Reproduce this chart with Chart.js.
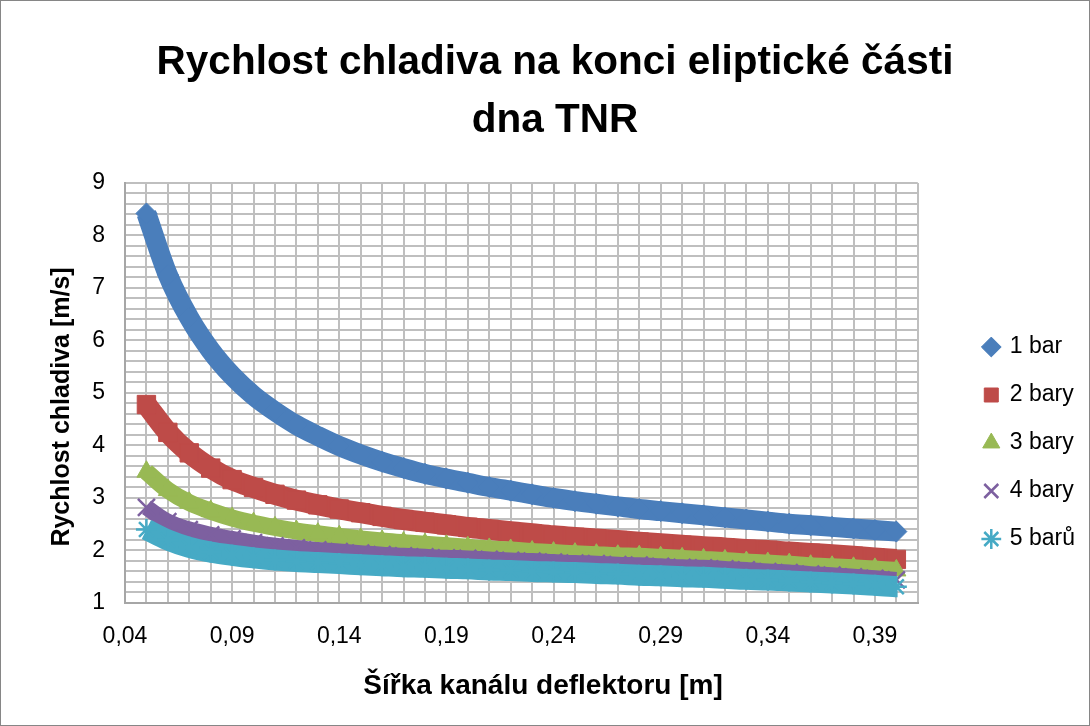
<!DOCTYPE html>
<html>
<head>
<meta charset="utf-8">
<style>
html,body{margin:0;padding:0;background:#fff;overflow:hidden}
canvas{display:block}
</style>
</head>
<body>
<canvas id="c" width="1090" height="726"></canvas>
<script src="https://cdn.jsdelivr.net/npm/chart.js"></script>
<script>
const titleLines = ['Rychlost chladiva na konci eliptické části', 'dna TNR'];
const xAxisTitle = 'Šířka kanálu deflektoru [m]';
const yAxisTitle = 'Rychlost chladiva [m/s]';
const seriesNames = ['1 bar', '2 bary', '3 bary', '4 bary', '5 barů'];
const xTickLabels = ['0,04', '0,09', '0,14', '0,19', '0,24', '0,29', '0,34', '0,39'];
const yTickLabels = ['1', '2', '3', '4', '5', '6', '7', '8', '9'];

const xValues = [0.05, 0.06, 0.07, 0.08, 0.09, 0.10, 0.11, 0.12, 0.13, 0.14, 0.15, 0.16,
  0.17, 0.18, 0.19, 0.20, 0.21, 0.22, 0.23, 0.24, 0.25, 0.26, 0.27, 0.28,
  0.29, 0.30, 0.31, 0.32, 0.33, 0.34, 0.35, 0.36, 0.37, 0.38, 0.39, 0.40];

const bar1 = [8.42, 7.25, 6.43, 5.81, 5.33, 4.95, 4.65, 4.39, 4.18, 3.99, 3.83, 3.69,
  3.57, 3.46, 3.37, 3.29, 3.21, 3.14, 3.07, 3.00, 2.94, 2.89, 2.84, 2.79,
  2.75, 2.71, 2.67, 2.63, 2.59, 2.55, 2.51, 2.48, 2.45, 2.42, 2.39, 2.36];
const bar2 = [4.78, 4.25, 3.86, 3.57, 3.35, 3.20, 3.07, 2.96, 2.87, 2.79, 2.72, 2.65,
  2.59, 2.54, 2.49, 2.44, 2.40, 2.36, 2.32, 2.28, 2.25, 2.22, 2.19, 2.16,
  2.13, 2.10, 2.07, 2.05, 2.02, 2.00, 1.97, 1.945, 1.92, 1.89, 1.86, 1.83];
const bar3 = [3.50, 3.15, 2.91, 2.75, 2.62, 2.52, 2.44, 2.37, 2.32, 2.27, 2.22, 2.18,
  2.15, 2.12, 2.09, 2.06, 2.03, 2.01, 1.98, 1.96, 1.94, 1.92, 1.90, 1.89,
  1.87, 1.85, 1.83, 1.81, 1.78, 1.76, 1.74, 1.71, 1.69, 1.67, 1.65, 1.62];
const bar4 = [2.82, 2.55, 2.40, 2.30, 2.22, 2.15, 2.09, 2.05, 2.01, 1.98, 1.95, 1.92,
  1.90, 1.88, 1.86, 1.85, 1.83, 1.81, 1.80, 1.78, 1.76, 1.75, 1.73, 1.72,
  1.70, 1.68, 1.67, 1.65, 1.63, 1.60, 1.58, 1.55, 1.53, 1.50, 1.47, 1.44];
const bar5 = [2.40, 2.20, 2.06, 1.97, 1.91, 1.86, 1.82, 1.79, 1.77, 1.75, 1.73, 1.71,
  1.69, 1.68, 1.66, 1.65, 1.63, 1.62, 1.60, 1.59, 1.58, 1.56, 1.55, 1.53,
  1.52, 1.50, 1.49, 1.47, 1.45, 1.44, 1.42, 1.40, 1.38, 1.36, 1.34, 1.31];

const seriesValues = [bar1, bar2, bar3, bar4, bar5];

const seriesStyles = [
  {color: '#4A7EBB', point: 'rectRot',  r: 10.5, band: 20, pbw: 1},
  {color: '#BE4B48', point: 'rect',     r: 13,   band: 21, pbw: 1},
  {color: '#98B954', point: 'triangle', r: 11,   band: 17, pbw: 1},
  {color: '#7D60A0', point: 'crossRot', r: 12,   band: 16, pbw: 2.5},
  {color: '#46AAC5', point: 'star',     r: 10.5, band: 21, pbw: 2.5}
];

const FONT = '"Liberation Sans", Arial, sans-serif';

const datasets = seriesValues.map((vals, i) => {
  const st = seriesStyles[i];
  return {
    label: seriesNames[i],
    data: xValues.map((x, j) => ({x: x, y: vals[j]})),
    showLine: true,
    borderColor: st.color,
    backgroundColor: st.color,
    borderWidth: st.band,
    cubicInterpolationMode: 'monotone',
    pointStyle: st.point,
    pointRadius: st.r,
    pointHoverRadius: st.r,
    pointBorderWidth: st.pbw,
    pointBackgroundColor: st.color,
    pointBorderColor: st.color,
    order: seriesValues.length - i
  };
});

const framePlugin = {
  id: 'frame',
  beforeDraw(chart) {
    const c = chart.ctx;
    c.save();
    c.fillStyle = '#ffffff';
    c.fillRect(0, 0, chart.width, chart.height);
    c.restore();
  },
  afterDraw(chart) {
    const c = chart.ctx;
    c.save();
    c.strokeStyle = '#868686';
    c.lineWidth = 1;
    c.strokeRect(0.5, 0.5, chart.width - 1, chart.height - 1);
    c.restore();
  }
};

const axisTitlePlugin = {
  id: 'axisTitles',
  afterDraw(chart) {
    const c = chart.ctx;
    c.save();
    c.fillStyle = '#000';
    c.textAlign = 'center';
    c.textBaseline = 'middle';
    c.font = 'bold 28px ' + FONT;
    c.fillText(xAxisTitle, 543, 686);
    c.translate(62, 407);
    c.rotate(-Math.PI / 2);
    c.font = 'bold 25px ' + FONT;
    c.fillText(yAxisTitle, 0, 0);
    c.restore();
  }
};

new Chart(document.getElementById('c'), {
  type: 'scatter',
  data: {datasets: datasets},
  plugins: [framePlugin, axisTitlePlugin],
  options: {
    responsive: false,
    animation: false,
    devicePixelRatio: 1,
    layout: {padding: {left: 25, right: 5, top: 0, bottom: 0}},
    plugins: {
      tooltip: {enabled: false},
      title: {
        display: true,
        text: titleLines,
        color: '#000',
        font: {family: FONT, size: 40.5, weight: 'bold', lineHeight: 1.432},
        padding: {top: 34, bottom: 33}
      },
      legend: {
        position: 'right',
        align: 'center',
        title: {display: true, text: ' ', font: {size: 12, lineHeight: 1.2}, padding: {top: 145.6, bottom: 0}},
        labels: {
          usePointStyle: true,
          boxWidth: 14,
          boxHeight: 14,
          padding: 25,
          color: '#000',
          font: {family: FONT, size: 23},
          sort: (a, b) => a.datasetIndex - b.datasetIndex
        }
      }
    },
    scales: {
      x: {
        type: 'linear',
        position: 'bottom',
        min: 0.04,
        max: 0.41,
        afterFit: s => { s.height = 123; },
        ticks: {
          stepSize: 0.01,
          autoSkip: false,
          maxRotation: 0,
          minRotation: 0,
          padding: 20,
          color: '#000',
          font: {family: FONT, size: 23},
          callback: v => {
            const i = Math.round((v - 0.04) * 100);
            return i % 5 === 0 ? (xTickLabels[i / 5] || '') : '';
          }
        },
        grid: {color: '#BFBFBF', lineWidth: 2, drawTicks: false},
        border: {color: '#A6A6A6', width: 2}
      },
      y: {
        type: 'linear',
        position: 'left',
        min: 1,
        max: 9,
        afterFit: s => { s.width = 100; },
        ticks: {
          stepSize: 0.2,
          autoSkip: false,
          padding: 20,
          color: '#000',
          font: {family: FONT, size: 23},
          callback: v => {
            const r = Math.round(v);
            return Math.abs(v - r) < 1e-6 ? (yTickLabels[r - 1] || '') : '';
          }
        },
        grid: {color: '#BFBFBF', lineWidth: 2, drawTicks: false},
        border: {color: '#A6A6A6', width: 2}
      },
      spacer: {
        type: 'linear',
        position: 'right',
        display: true,
        afterFit: s => { s.width = 41.5; },
        ticks: {display: false},
        grid: {display: false, drawOnChartArea: false},
        border: {display: false}
      }
    }
  }
});
</script>
</body>
</html>
